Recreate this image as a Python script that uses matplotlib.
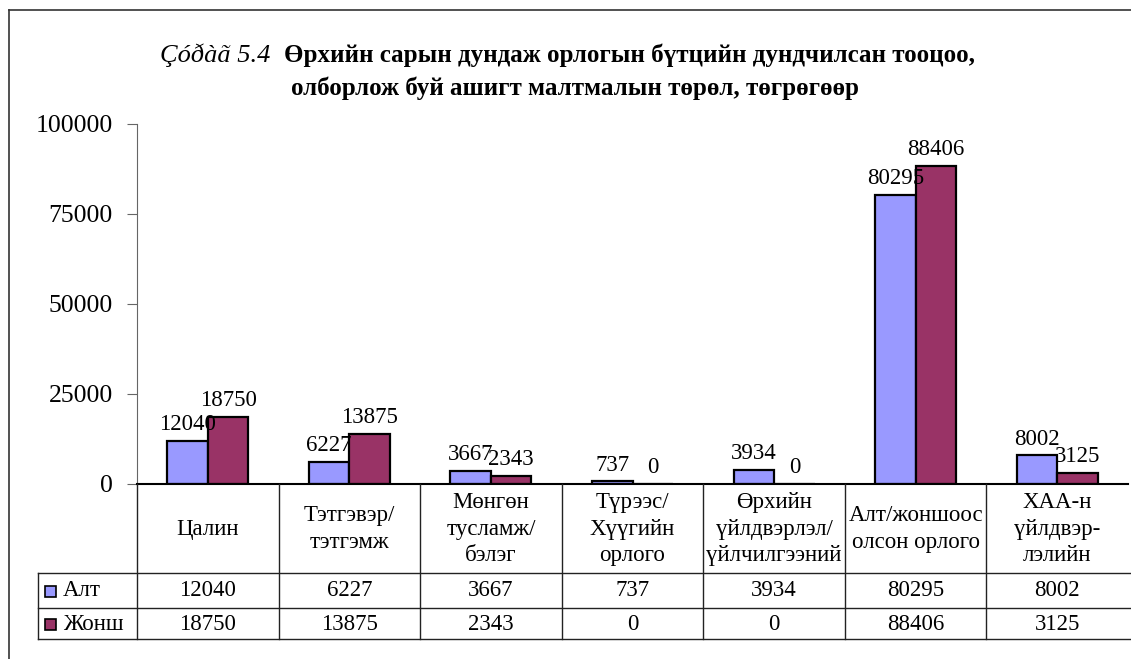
import matplotlib
matplotlib.use("Agg")
import matplotlib.pyplot as plt
import numpy as np
from matplotlib.lines import Line2D
from matplotlib.patches import Rectangle

plt.rcParams["font.family"] = ["Liberation Serif", "DejaVu Serif"]

# 数据
categories = [
    "Цалин",
    "Тэтгэвэр/\nтэтгэмж",
    "Мөнгөн\nтусламж/\nбэлэг",
    "Түрээс/\nХүүгийн\nорлого",
    "Өрхийн\nүйлдвэрлэл/\nүйлчилгээний",
    "Алт/жоншоос\nолсон орлого",
    "ХАА-н\nүйлдвэр-\nлэлийн",
]
alt = [12040, 6227, 3667, 737, 3934, 80295, 8002]
zhonsh = [18750, 13875, 2343, 0, 0, 88406, 3125]
series_names = ["Алт", "Жонш"]
colors = ["#9999FF", "#993366"]
yticks = [0, 25000, 50000, 75000, 100000]

W, H = 1131, 659
fig = plt.figure(figsize=(W / 100, H / 100), dpi=100)


def fx(px):
    return px / W


def fy(py):
    return 1 - py / H


# 外框
fig.add_artist(Line2D([fx(9), fx(9)], [fy(10), 0], color="#333333", lw=1.2))
fig.add_artist(Line2D([fx(9), 1], [fy(10), fy(10)], color="#333333", lw=1.2))

# 标题
fig.text(fx(160), fy(62), "Çóðàã 5.4", fontsize=19, style="italic", va="baseline")
fig.text(fx(284), fy(62), "Өрхийн сарын дундаж орлогын бүтцийн дундчилсан тооцоо,",
         fontsize=18, weight="bold", va="baseline")
fig.text(fx(575), fy(95), "олборлож буй ашигт малтмалын төрөл, төгрөгөөр",
         fontsize=18, weight="bold", va="baseline", ha="center")

# 柱状图
x0, x1 = 137, 1128
ax = fig.add_axes([fx(x0), fy(484), fx(x1) - fx(x0), fy(124) - fy(484)])
x = np.arange(len(categories))
w = 0.286
for i, (vals, c) in enumerate(zip([alt, zhonsh], colors)):
    pos = x + (i - 0.5) * w
    ax.bar(pos, vals, width=w, color=c, edgecolor="black", linewidth=1.6)
    for p, v in zip(pos, vals):
        ax.annotate(str(v), (p, v), xytext=(0, 4), textcoords="offset points",
                    ha="center", va="bottom", fontsize=16.5)
ax.set_xlim(-0.5, len(categories) - 0.5)
ax.set_ylim(0, 100000)
ax.set_yticks(yticks)
ax.set_yticklabels([str(t) for t in yticks], fontsize=18.5)
ax.set_xticks([])
ax.tick_params(axis="y", direction="out", length=7, color="#666666", pad=10.5)
for s in ["top", "right"]:
    ax.spines[s].set_visible(False)
ax.spines["left"].set_color("#666666")
ax.spines["bottom"].set_color("black")
ax.spines["bottom"].set_linewidth(1.5)

# 数据表
tab = fig.add_axes([fx(x0), fy(639), fx(x1) - fx(x0), fy(484) - fy(639)])
tab.set_xlim(-0.5, len(categories) - 0.5)
tab.set_ylim(155, 0)
tab.axis("off")
colw = (x1 - x0) / len(categories)


def dx(px):
    return -0.5 + (px - x0) / colw


left = dx(38)
right = dx(W)
lc = "#222222"
for k in range(len(categories)):
    tab.plot([k - 0.5, k - 0.5], [0, 155], color=lc, lw=1.0, clip_on=False)
for yy in [89, 124, 155]:
    tab.plot([left, right], [yy, yy], color=lc, lw=1.0, clip_on=False)
tab.plot([left, left], [89, 155], color=lc, lw=1.0, clip_on=False)

for k, name in enumerate(categories):
    tab.text(k, 45, name, ha="center", va="center", fontsize=16.5, linespacing=1.35)
    tab.text(k, 107, str(alt[k]), ha="center", va="center", fontsize=16.5)
    tab.text(k, 140, str(zhonsh[k]), ha="center", va="center", fontsize=16.5)

for yy, name, c in zip([107, 140], series_names, colors):
    tab.add_patch(Rectangle((dx(45), yy - 5.5), dx(56) - dx(45), 11, facecolor=c,
                            edgecolor="black", lw=1.2, clip_on=False))
    tab.text(dx(63), yy, name, ha="left", va="center", fontsize=16.5)

plt.savefig("out.png", dpi=100)
